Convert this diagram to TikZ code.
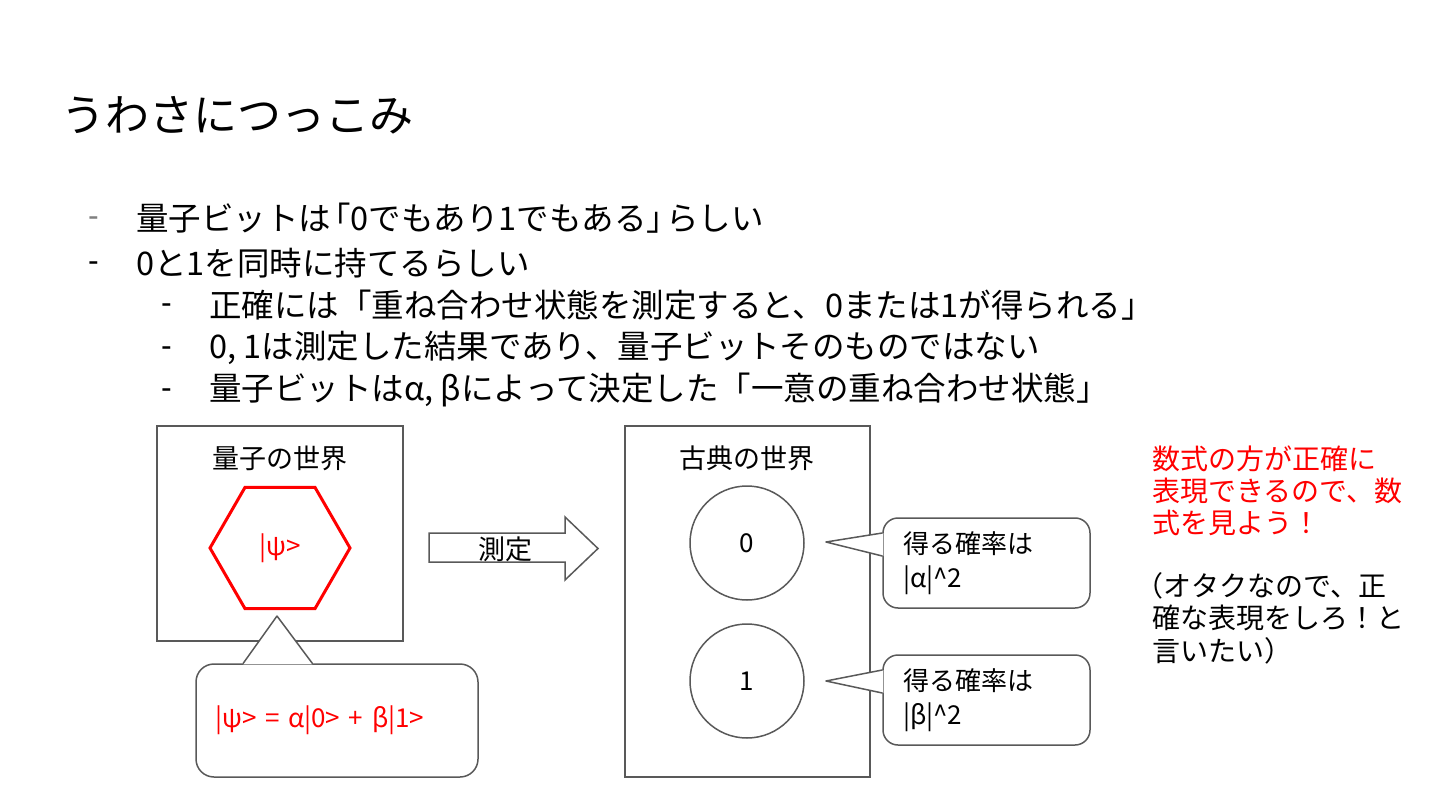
\documentclass[tikz,border=0pt]{standalone}
\usepackage{fontspec}
\setmainfont{Noto Sans CJK JP}
\newfontfamily\dashfont{Liberation Sans}
\usepackage{xcolor}
\usepackage{tikz}
\usetikzlibrary{shapes.geometric,positioning}
\definecolor{slred}{HTML}{FF0000}
\definecolor{slgray}{HTML}{595959}

\begin{document}
\begin{tikzpicture}[x=1pt, y=-1pt,
    line/.style={draw=slgray, line width=1.5pt},
    txt/.style={anchor=west, inner sep=0pt, font=\fontsize{32.5}{38}\selectfont},
    dsh/.style={anchor=west, inner sep=0pt, yshift=-4pt, font=\dashfont\fontsize{32}{37}\selectfont},
    small/.style={inner sep=0pt, font=\fontsize{27}{32}\selectfont},
    bubble/.style={line, fill=white, rounded corners=18pt, align=left, font=\fontsize{26}{34}\selectfont}]
      % 1 pt = 1 px of the slide
      \useasboundingbox (0,0) rectangle (1440,810);
      \node[txt, font=\fontsize{44}{52}\selectfont] (title) at (61,115) {うわさにつっこみ};
      \node[dsh, text=gray] (d1) at (88,218) {-};
      \node[txt] (b1) at (136,218) {量子ビットは\kern-.4em「0でもあり1でもある」\kern-.4em らしい};
      \node[dsh] (d2) at (88,263) {-};
      \node[txt] (b2) at (136,263) {0と1を同時に持てるらしい};
      \node[dsh] (d3) at (161,305) {-};
      \node[txt] (b3) at (209,305) {正確には「重ね合わせ状態を測定すると、0または1が得られる」};
      \node[dsh] (d4) at (161,348) {-};
      \node[txt] (b4) at (209,348) {0, 1は測定した結果であり、量子ビットそのものではない};
      \node[dsh] (d5) at (161,390) {-};
      \node[txt] (b5) at (209,390) {量子ビットはα, βによって決定した「一意の重ね合わせ状態」};

      \node[line, minimum width=246pt, minimum height=215pt] (qbox) at (280,533.5) {};
      \node[small] (qtitle) at (280,458) {量子の世界};
      \node[regular polygon, regular polygon sides=6, draw=slred, line width=3pt, minimum size=140pt,
            inner sep=0pt, text=slred, font=\fontsize{26}{32}\selectfont] (psi) at (280,548) {|ψ>};

      \node[bubble, minimum width=282pt, minimum height=113pt, text width=244pt, inner xsep=19pt,
            text=slred] (eq) at (337,720.5) {|ψ> = α|0> + β|1>};
      \coordinate (eqtip) at (277,616);
      \fill[white] ([xshift=48pt,yshift=-1pt]eq.north west) -- (eqtip) -- ([xshift=117pt,yshift=-1pt]eq.north west) -- cycle;
      \draw[line, line join=round, line cap=round] ([xshift=48pt]eq.north west) -- (eqtip) -- ([xshift=117pt]eq.north west);

      \draw[line] (429,533) -- (565,533) -- (565,517) -- (598,548.5) -- (565,580) -- (565,562) -- (429,562) -- cycle;
      \node[small] (meas) at (505,549) {測定};

      \node[line, minimum width=245pt, minimum height=351pt] (cbox) at (747.5,601.5) {};
      \node[small] (ctitle) at (747,458) {古典の世界};
      \node[line, circle, minimum size=114pt, font=\fontsize{26}{32}\selectfont] (zero) at (747,543) {0};
      \node[line, circle, minimum size=114pt, font=\fontsize{26}{32}\selectfont] (one) at (747,681) {1};

      \node[bubble, rounded corners=15pt, minimum width=207pt, minimum height=90pt, text width=167pt,
            inner xsep=20pt] (pa) at (986.5,563) {得る確率は\\|α|\textasciicircum 2};
      \coordinate (patip) at (826,542);
      \fill[white] ([xshift=1pt,yshift=30pt]pa.west) -- (patip) -- ([xshift=1pt,yshift=7pt]pa.west) -- cycle;
      \draw[line, line join=round, line cap=round] ([yshift=30pt]pa.west) -- (patip) -- ([yshift=7pt]pa.west);

      \node[bubble, rounded corners=15pt, minimum width=207pt, minimum height=90pt, text width=167pt,
            inner xsep=20pt] (pb) at (986.5,700) {得る確率は\\|β|\textasciicircum 2};
      \coordinate (pbtip) at (826,681);
      \fill[white] ([xshift=1pt,yshift=30pt]pb.west) -- (pbtip) -- ([xshift=1pt,yshift=7pt]pb.west) -- cycle;
      \draw[line, line join=round, line cap=round] ([yshift=30pt]pb.west) -- (pbtip) -- ([yshift=7pt]pb.west);

      \node[small, anchor=west, align=left, text=slred, font=\fontsize{28}{32}\selectfont] (note) at (1152,491)
            {数式の方が正確に\\表現できるので、数\\式を見よう！};
      \node[small, anchor=west, align=left, font=\fontsize{28}{32.5}\selectfont] (aside) at (1152,618)
            {\kern-0.6em（オタクなので、正\\確な表現をしろ！と\\言いたい）};
    \end{tikzpicture}
\end{document}
